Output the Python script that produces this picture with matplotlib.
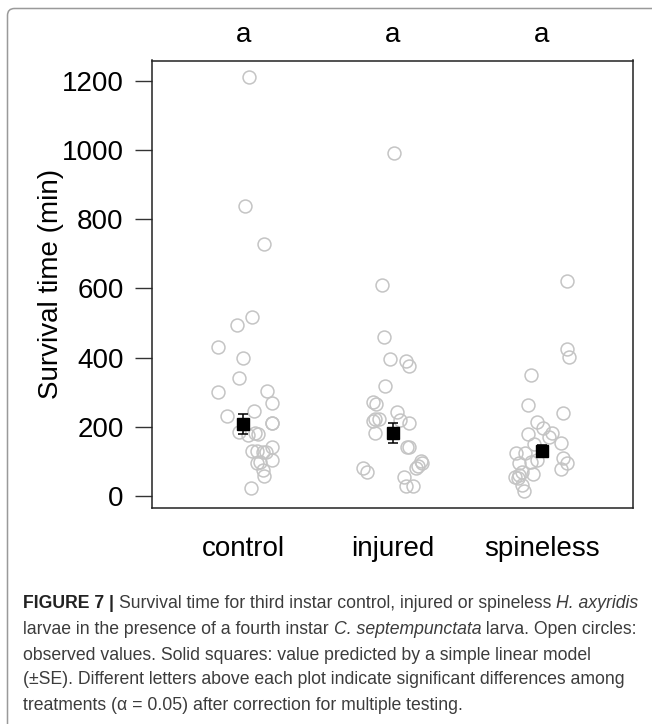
import matplotlib
matplotlib.use("Agg")
import matplotlib.pyplot as plt
from matplotlib.path import Path
from matplotlib.patches import PathPatch
import numpy as np

# ---------------- data ----------------
categories = ["control", "injured", "spineless"]
letters = ["a", "a", "a"]

control_vals = [1211, 838, 728, 517, 494, 431, 399, 341, 301, 303, 268, 246, 231,
                211, 211, 185, 176, 182, 179, 142, 130, 130, 127, 127, 104, 95, 98,
                75, 58, 23]
control_jit = [0.04, 0.01, 0.14, 0.06, -0.04, -0.17, 0.0, -0.03, -0.17, 0.16, 0.19,
               0.07, -0.11, 0.19, 0.19, -0.03, 0.03, 0.08, 0.10, 0.19, 0.06, 0.09,
               0.15, 0.13, 0.19, 0.09, 0.11, 0.13, 0.14, 0.05]

injured_vals = [991, 610, 460, 396, 390, 376, 318, 272, 266, 243, 222, 222, 217, 220,
                211, 182, 142, 142, 101, 95, 87, 81, 81, 69, 55, 29, 29]
injured_jit = [0.01, -0.07, -0.06, -0.02, 0.09, 0.11, -0.05, -0.13, -0.11, 0.03,
               -0.12, -0.09, -0.13, 0.05, 0.11, -0.12, 0.10, 0.11, 0.19, 0.20, 0.17,
               0.16, -0.20, -0.17, 0.08, 0.09, 0.14]

spineless_vals = [621, 425, 402, 350, 263, 240, 214, 197, 179, 182, 171, 153, 150,
                  124, 124, 110, 104, 98, 95, 95, 78, 64, 69, 55, 52, 61, 32, 14]
spineless_jit = [0.17, 0.17, 0.18, -0.07, -0.09, 0.14, -0.03, 0.01, -0.09, 0.07, 0.05,
                 0.13, -0.05, -0.17, -0.11, 0.14, -0.03, -0.07, -0.15, 0.17, 0.13,
                 -0.06, -0.13, -0.18, -0.16, -0.15, -0.13, -0.12]

pred_mean = [208, 182, 130]
pred_se = [30, 29, 16]

y_ticks = [0, 200, 400, 600, 800, 1000, 1200]
y_label = "Survival time (min)"

caption_lines = [
    [("FIGURE 7 | ", "bold"), ("Survival time for third instar control, injured or spineless ", "normal"),
     ("H. axyridis", "italic")],
    [("larvae in the presence of a fourth instar ", "normal"), ("C. septempunctata", "italic"),
     (" larva. Open circles:", "normal")],
    [("observed values. Solid squares: value predicted by a simple linear model", "normal")],
    [("(\u00b1SE). Different letters above each plot indicate significant differences among", "normal")],
    [("treatments (\u03b1 = 0.05) after correction for multiple testing.", "normal")],
]

# ---------------- figure ----------------
W, H, DPI = 652, 724, 100
plt.rcParams['font.family'] = ['Liberation Sans', 'DejaVu Sans']
fig = plt.figure(figsize=(W / DPI, H / DPI), dpi=DPI)

# outer light border (only top and left edges are inside the picture)
bx, by, r = 7.5, 8.5, 7.0
verts_px = [(bx, H + 10), (bx, by + r), (bx, by), (bx + r, by), (W + 10, by)]
codes = [Path.MOVETO, Path.LINETO, Path.CURVE3, Path.CURVE3, Path.LINETO]
verts = [(vx / W, 1 - vy / H) for vx, vy in verts_px]
fig.patches.append(PathPatch(Path(verts, codes), transform=fig.transFigure,
                             fill=False, edgecolor="#9a9a9a", linewidth=1.1))

ax_l, ax_r, ax_t, ax_b = 152, 633, 60.5, 508
ax = fig.add_axes([ax_l / W, 1 - ax_b / H, (ax_r - ax_l) / W, (ax_b - ax_t) / H])

groups = [(control_vals, control_jit), (injured_vals, injured_jit),
          (spineless_vals, spineless_jit)]
for i, (vals, jit) in enumerate(groups):
    xs = np.array(jit) + (i + 1)
    ax.plot(xs, vals, linestyle="none", marker="o", markersize=9.3,
            markerfacecolor="none", markeredgecolor="#c4c4c4", markeredgewidth=1.1,
            zorder=2)

xpos = np.arange(1, len(categories) + 1)
ax.errorbar(xpos, pred_mean, yerr=pred_se, fmt="s", color="black", markersize=8,
            ecolor="black", elinewidth=1.1, capsize=3.3, capthick=1.1, zorder=3)

ax.set_xlim(0.39, 3.61)
ax.set_ylim(-34.7, 1258.7)
ax.set_yticks(y_ticks)
ax.set_yticklabels([str(v) for v in y_ticks])
ax.set_xticks(xpos)
ax.set_xticklabels(categories)
ax.tick_params(axis="y", length=12.5, width=1.0, color="#333333", pad=8,
               labelsize=20, direction="out")
ax.tick_params(axis="x", length=0, pad=20, labelsize=20)
for sp in ax.spines.values():
    sp.set_linewidth(1.1)
    sp.set_color("#222222")
ax.set_ylabel(y_label, fontsize=20, labelpad=-1.5)

for i, lt in enumerate(letters):
    ax.text(i + 1, 1.057, lt, transform=ax.get_xaxis_transform(), ha="center",
            va="center", fontsize=20, clip_on=False)

# ---------------- caption ----------------
fig.canvas.draw()
renderer = fig.canvas.get_renderer()
cap_size = 12.7
y_lines = [603, 629, 655, 680, 705]
for line, yc in zip(caption_lines, y_lines):
    x = 23
    for txt, style in line:
        kw = dict(fontsize=cap_size, va="center", ha="left", color="#3c3c3c")
        if style == "bold":
            kw["fontweight"] = "bold"
            kw["color"] = "#222222"
        elif style == "italic":
            kw["fontstyle"] = "italic"
        t = fig.text(x / W, 1 - yc / H, txt, **kw)
        bb = t.get_window_extent(renderer)
        x = bb.x1

fig.savefig("out.png", dpi=DPI)
